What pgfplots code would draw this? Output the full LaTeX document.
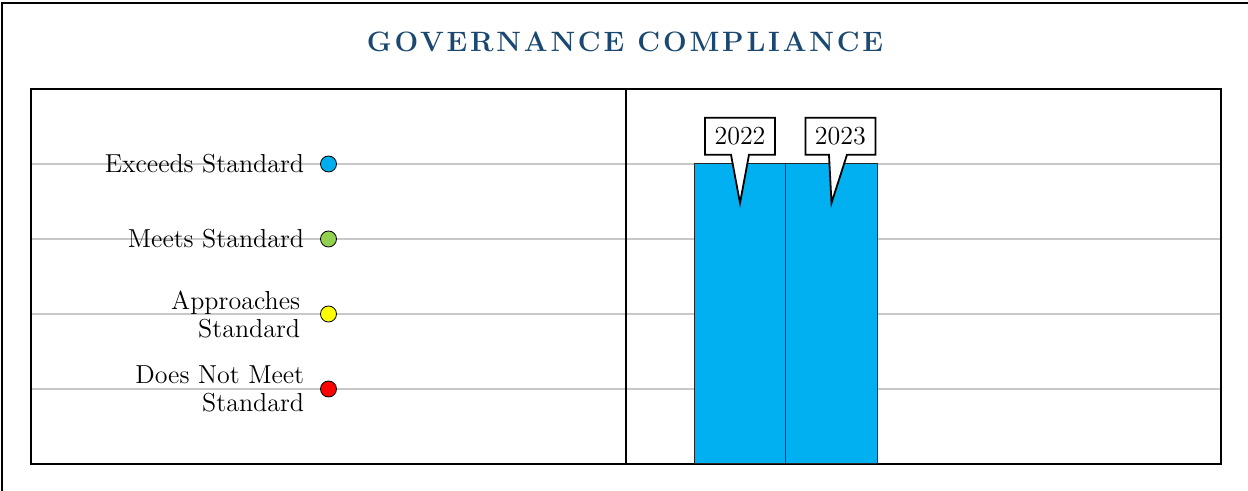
\documentclass[border=0pt]{standalone}
\usepackage{fontspec}
\setmainfont{Latin Modern Roman}
\newfontfamily\titlefont[LetterSpace=10]{Latin Modern Roman}
\usepackage{pgfplots}
\pgfplotsset{compat=1.18}
\usetikzlibrary{shapes.callouts}
\definecolor{titleblue}{HTML}{1A4870}
\definecolor{barcyan}{HTML}{00B0F0}
\definecolor{c4}{HTML}{00AEEF}
\definecolor{c3}{HTML}{92D050}
\definecolor{c2}{HTML}{FFFF00}
\definecolor{c1}{HTML}{FF0000}
\definecolor{gridgray}{HTML}{C8C8C8}
\begin{document}
\begin{tikzpicture}
\path[use as bounding box] (0pt,0pt) rectangle (624pt,-245.5pt);
\draw[line width=1pt] (1pt,-245.5pt) -- (1pt,-1.5pt) -- (624pt,-1.5pt);
\node[text=titleblue, font=\titlefont\bfseries\fontsize{14}{16}\selectfont] at (312.5pt,-21pt) {GOVERNANCE COMPLIANCE};
\pgfplotsset{
  panel/.style={
    scale only axis, width=297.5pt, height=187.5pt,
    ymin=0, ymax=5, ytick={1,2,3,4}, yticklabels={},
    xtick=\empty, major tick length=0pt,
    ymajorgrids, grid style={gridgray, line width=1pt},
    axis line style={line width=1pt},
    tick style={draw=none},
  }
}
\begin{axis}[panel, at={(15.5pt,-232pt)}, anchor=south west, xmin=0, xmax=1]
\addplot[only marks, mark=*, mark size=4pt, mark options={fill=c4, draw=black, line width=0.4pt}] coordinates {(0.5,4)};
\addplot[only marks, mark=*, mark size=4pt, mark options={fill=c3, draw=black, line width=0.4pt}] coordinates {(0.5,3)};
\addplot[only marks, mark=*, mark size=4pt, mark options={fill=c2, draw=black, line width=0.4pt}] coordinates {(0.5,2)};
\addplot[only marks, mark=*, mark size=4pt, mark options={fill=c1, draw=black, line width=0.4pt}] coordinates {(0.5,1)};
\begin{scope}[every node/.style={anchor=east, align=right, inner sep=0pt, font=\fontsize{13}{14}\selectfont}]
\node at ([xshift=-12pt]axis cs:0.5,4) {Exceeds Standard};
\node at ([xshift=-12pt]axis cs:0.5,3) {Meets Standard};
\node at ([xshift=-14pt]axis cs:0.5,2) {Approaches\\Standard};
\node at ([xshift=-12pt]axis cs:0.5,1) {Does Not Meet\\Standard};
\end{scope}
\end{axis}
\begin{axis}[panel, at={(313pt,-232pt)}, anchor=south west, xmin=-1.246, xmax=5.257]
\addplot[ybar, bar width=1, fill=barcyan, draw=black!85, line width=0.5pt] coordinates {(0,4) (1,4)};
\begin{scope}[every node/.style={rectangle callout, draw=black, fill=white, line width=0.9pt, callout pointer width=9pt, minimum width=35pt, minimum height=18.5pt, inner sep=2pt, font=\fontsize{13}{14}\selectfont}]
\node[callout absolute pointer={(axis cs:0,3.48)}] at (axis cs:0,4.37) {2022};
\node[callout absolute pointer={(axis cs:1.0,3.48)}] at (axis cs:1.098,4.37) {2023};
\end{scope}
\end{axis}
\end{tikzpicture}
\end{document}
